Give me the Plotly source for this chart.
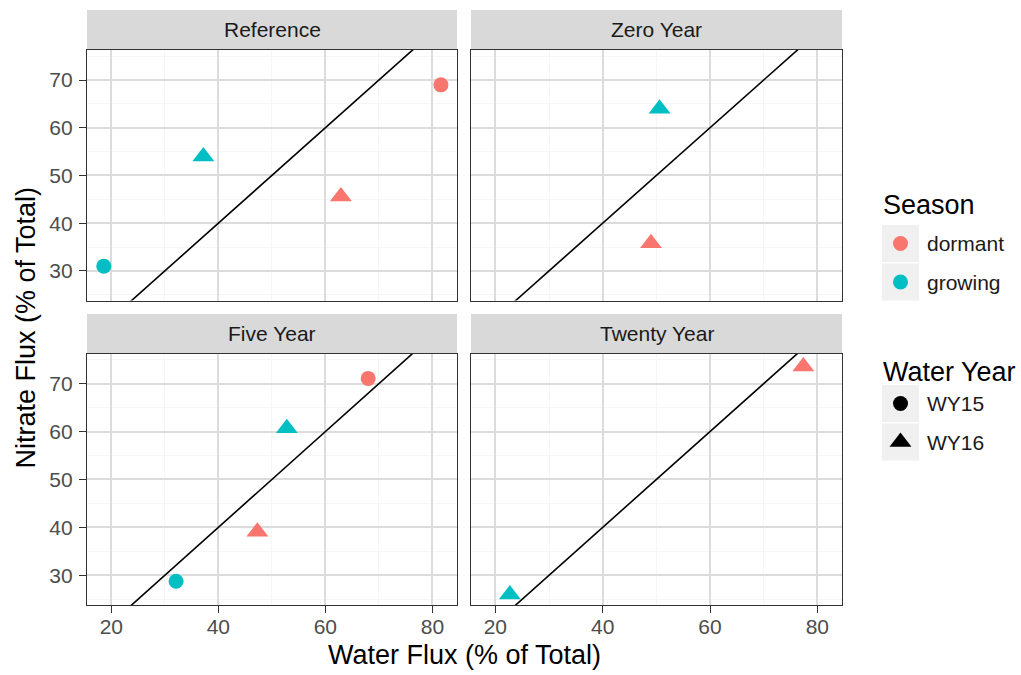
import plotly.graph_objects as go

# ---- data -------------------------------------------------------------
PANELS = ["Reference", "Zero Year", "Five Year", "Twenty Year"]
SEASONS = ["dormant", "growing"]
SEASON_COLORS = ["#F8766D", "#00BFC4"]
WATER_YEARS = ["WY15", "WY16"]
WY_SYMBOLS = ["circle", "triangle-up"]

panel = ["Reference", "Reference", "Reference", "Reference",
         "Zero Year", "Zero Year",
         "Five Year", "Five Year", "Five Year", "Five Year",
         "Twenty Year", "Twenty Year"]
season = ["growing", "growing", "dormant", "dormant",
          "growing", "dormant",
          "dormant", "growing", "dormant", "growing",
          "dormant", "growing"]
water_year = ["WY15", "WY16", "WY16", "WY15",
              "WY16", "WY16",
              "WY15", "WY16", "WY16", "WY15",
              "WY16", "WY16"]
water_flux = [18.6, 37.2, 62.9, 81.6,
              50.6, 49.0,
              68.0, 52.8, 47.3, 32.1,
              77.4, 22.7]
nitrate_flux = [31.0, 54.0, 45.6, 69.0,
                64.0, 35.8,
                71.1, 60.7, 39.1, 28.75,
                73.6, 26.0]

# 1:1 reference line
ABLINE_SLOPE = 1.0
ABLINE_INTERCEPT = 0.0

X_RANGE = [15.46, 84.6]
Y_RANGE = [23.8, 76.3]
X_TICKS = [20, 40, 60, 80]
Y_TICKS = [30, 40, 50, 60, 70]

# ---- layout geometry (pixels) -----------------------------------------
W, H = 1021, 675
FONT = "Liberation Sans, Arial, Helvetica, sans-serif"
SMALL = 21
BIG = 27


def fx(x):
    return x / W


def fy(y):
    return 1 - y / H


# panel boxes: (left, right, top, bottom) and strip (top, bottom)
COLS = [(87, 457), (471, 842)]
ROWS = [(50, 300.5), (353.5, 605)]
STRIPS = [(10, 50), (314, 353.5)]
LEGEND_AREA = (860, W)

fig = go.Figure()
layout = dict(
    width=W, height=H,
    margin=dict(l=0, r=0, t=0, b=0),
    paper_bgcolor="white", plot_bgcolor="rgba(0,0,0,0)",
    showlegend=False,
    font=dict(family=FONT, size=SMALL, color="#4d4d4d"),
    shapes=[], annotations=[],
)

for i, name in enumerate(PANELS):
    r, c = divmod(i, 2)
    left, right = COLS[c]
    top, bottom = ROWS[r]
    sfx = "" if i == 0 else str(i + 1)
    xa, ya = "x" + sfx, "y" + sfx
    common = dict(
        showline=True, mirror=True, linecolor="#333333", linewidth=1.3,
        showgrid=True, gridcolor="#dcdcdc", gridwidth=1.6,
        zeroline=False, fixedrange=True,
        tickfont=dict(family=FONT, size=SMALL, color="#4d4d4d"),
        tickcolor="#333333", ticklen=7, tickwidth=1.3,
    )
    layout["xaxis" + sfx] = dict(
        common, domain=[fx(left), fx(right)], anchor=ya, range=X_RANGE,
        tickmode="array", tickvals=X_TICKS, ticklabelstandoff=-4,
        minor=dict(showgrid=True, gridcolor="#f6f6f6", gridwidth=0.8,
                   tickmode="array", tickvals=[30, 50, 70]),
        showticklabels=(r == 1), ticks="outside" if r == 1 else "",
    )
    layout["yaxis" + sfx] = dict(
        common, domain=[fy(bottom), fy(top)], anchor=xa, range=Y_RANGE,
        tickmode="array", tickvals=Y_TICKS, ticklabelstandoff=2,
        minor=dict(showgrid=True, gridcolor="#f6f6f6", gridwidth=0.8,
                   tickmode="array", tickvals=[25, 35, 45, 55, 65, 75]),
        showticklabels=(c == 0), ticks="outside" if c == 0 else "",
    )

    # facet strip
    st, sb = STRIPS[r]
    layout["shapes"].append(dict(
        type="rect", xref="paper", yref="paper",
        x0=fx(left), x1=fx(right), y0=fy(sb), y1=fy(st),
        fillcolor="#d9d9d9", line=dict(width=0), layer="below"))
    layout["annotations"].append(dict(
        text=name, xref="paper", yref="paper",
        x=fx((left + right) / 2), y=fy((st + sb) / 2),
        xanchor="center", yanchor="middle", showarrow=False,
        font=dict(family=FONT, size=SMALL, color="#1a1a1a")))

    # 1:1 line across the panel
    lx = [X_RANGE[0], X_RANGE[1]]
    fig.add_trace(go.Scatter(
        x=lx, y=[ABLINE_SLOPE * v + ABLINE_INTERCEPT for v in lx],
        mode="lines", line=dict(color="black", width=1.6),
        xaxis=xa, yaxis=ya, hoverinfo="skip"))

    # points of this panel
    for s, col in zip(SEASONS, SEASON_COLORS):
        for wy, sym in zip(WATER_YEARS, WY_SYMBOLS):
            idx = [k for k in range(len(panel))
                   if panel[k] == name and season[k] == s and water_year[k] == wy]
            if not idx:
                continue
            fig.add_trace(go.Scatter(
                x=[water_flux[k] for k in idx],
                y=[nitrate_flux[k] for k in idx],
                mode="markers", xaxis=xa, yaxis=ya,
                marker=dict(color=col, symbol=sym,
                            size=15 if sym == "circle" else 19,
                            line=dict(width=0)),
                name=f"{s} {wy}"))

# axis titles
layout["annotations"].append(dict(
    text="Water Flux (% of Total)", xref="paper", yref="paper",
    x=fx((COLS[0][0] + COLS[1][1]) / 2), y=fy(655),
    xanchor="center", yanchor="middle", showarrow=False,
    font=dict(family=FONT, size=BIG, color="black")))
layout["annotations"].append(dict(
    text="Nitrate Flux (% of Total)", xref="paper", yref="paper",
    x=fx(25), y=fy((ROWS[0][0] + ROWS[1][1]) / 2), textangle=-90,
    xanchor="center", yanchor="middle", showarrow=False,
    font=dict(family=FONT, size=BIG, color="black")))

# ---- legends: key boxes, key markers and labels -------------------------
LEG_X0, LEG_X1 = 882, 919      # key box span
LEG_LABEL_X = 925
KEY_H = 37
KEY_GAP = 1.5
legend_blocks = [
    ("Season", 205, 225, SEASONS,
     [dict(color=c, symbol="circle", size=15) for c in SEASON_COLORS]),
    ("Water Year", 372, 385, WATER_YEARS,
     [dict(color="black", symbol=s, size=15 if s == "circle" else 19)
      for s in WY_SYMBOLS]),
]
# pixel-scaled helper axes over the legend column
layout["xaxis5"] = dict(domain=[fx(LEGEND_AREA[0]), fx(LEGEND_AREA[1])],
                        range=list(LEGEND_AREA), visible=False,
                        fixedrange=True, anchor="y5")
layout["yaxis5"] = dict(domain=[0, 1], range=[H, 0], visible=False,
                        fixedrange=True, anchor="x5")
for title, ty, key_top, labels, markers in legend_blocks:
    layout["annotations"].append(dict(
        text=title, xref="paper", yref="paper", x=fx(LEG_X0 - 1), y=fy(ty),
        xanchor="left", yanchor="middle", showarrow=False,
        font=dict(family=FONT, size=BIG, color="black")))
    for j, (lab, mk) in enumerate(zip(labels, markers)):
        y0 = key_top + j * (KEY_H + KEY_GAP)
        yc = y0 + KEY_H / 2
        layout["shapes"].append(dict(
            type="rect", xref="paper", yref="paper",
            x0=fx(LEG_X0), x1=fx(LEG_X1), y0=fy(y0 + KEY_H), y1=fy(y0),
            fillcolor="#f0f0f0", line=dict(width=0), layer="below"))
        fig.add_trace(go.Scatter(
            x=[(LEG_X0 + LEG_X1) / 2], y=[yc], mode="markers",
            xaxis="x5", yaxis="y5", hoverinfo="skip",
            marker=dict(mk, line=dict(width=0))))
        layout["annotations"].append(dict(
            text=lab, xref="paper", yref="paper", x=fx(LEG_LABEL_X), y=fy(yc),
            xanchor="left", yanchor="middle", showarrow=False,
            font=dict(family=FONT, size=SMALL, color="#1a1a1a")))

fig.update_layout(**layout)
fig.write_html("out.html")
